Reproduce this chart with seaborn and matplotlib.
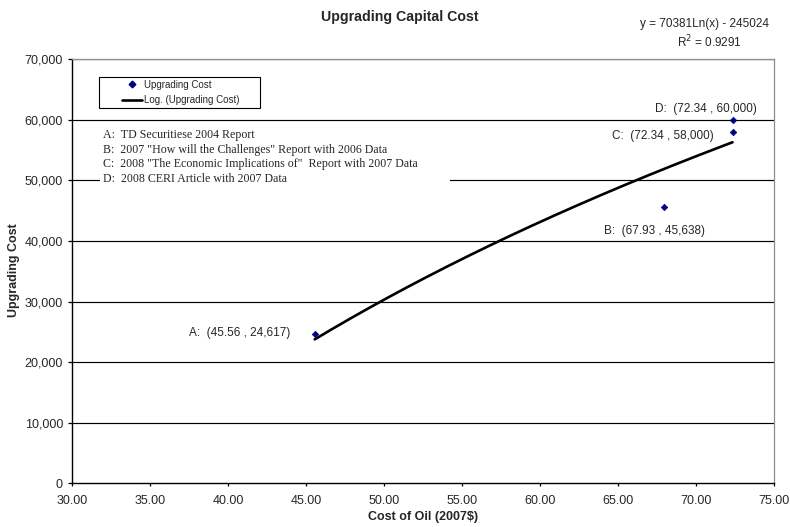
import numpy as np
import pandas as pd
import matplotlib
matplotlib.use("Agg")
import matplotlib.pyplot as plt
import seaborn as sns
from matplotlib.lines import Line2D

# Survey points: cost of oil (2007$) vs. upgrading capital cost
point_ids = ["A", "B", "C", "D"]
oil_cost = [45.56, 67.93, 72.34, 72.34]
upgrading_cost = [24617, 45638, 58000, 60000]
sources = [
    'A:  TD Securitiese 2004 Report',
    'B:  2007 "How will the Challenges" Report with 2006 Data',
    'C:  2008 "The Economic Implications of"  Report with 2007 Data',
    'D:  2008 CERI Article with 2007 Data',
]

# Logarithmic trendline coefficients: y = a*ln(x) + b
trend_a = 70381
trend_b = -245024
trend_r2 = 0.9291

x_ticks = np.arange(30, 75.01, 5)
y_ticks = np.arange(0, 70001, 10000)

W, H = 790, 527


def fx(px):
    return px / W


def fy(py):
    return 1 - py / H


sns.set_theme(style="white")
plt.rcParams["font.family"] = ["Liberation Sans", "DejaVu Sans"]

df = pd.DataFrame({"id": point_ids, "oil": oil_cost, "cost": upgrading_cost})
xs = np.linspace(min(oil_cost), max(oil_cost), 200)
trend = pd.DataFrame({"oil": xs, "cost": trend_a * np.log(xs) + trend_b})

fig = plt.figure(figsize=(W / 100, H / 100), dpi=100)
ax = fig.add_axes([fx(72), fy(483.3), (774 - 72) / W, (483.3 - 59.3) / H])

for yv in y_ticks[1:]:
    ax.axhline(yv, color="black", lw=0.85, zorder=1)

sns.lineplot(data=trend, x="oil", y="cost", ax=ax, color="black", lw=1.9,
             zorder=3)
sns.scatterplot(data=df, x="oil", y="cost", ax=ax, marker="D", color="#000080",
                s=11, edgecolor="#000080", linewidth=0.5, zorder=4)

ax.set_xlim(30, 75)
ax.set_ylim(0, 70000)
ax.set_xticks(x_ticks)
ax.set_xticklabels([f"{v:.2f}" for v in x_ticks], fontsize=9)
ax.set_yticks(y_ticks)
ax.set_yticklabels([f"{int(v):,}" for v in y_ticks], fontsize=9)
ax.tick_params(axis="x", direction="out", length=2.5, width=0.9,
               color="black", pad=6, bottom=True)
ax.tick_params(axis="y", direction="out", length=3, width=0.9,
               color="black", pad=3.5, left=True)
for side in ["left", "bottom"]:
    ax.spines[side].set_color("black")
    ax.spines[side].set_linewidth(1.0)
for side in ["top", "right"]:
    ax.spines[side].set_color("#8c8c8c")
    ax.spines[side].set_linewidth(0.9)

ax.set_xlabel("")
ax.set_ylabel("")
fig.text(fx(423), fy(517), "Cost of Oil (2007$)", ha="center", va="center",
         fontsize=9, fontweight="bold")
fig.text(fx(14), fy(270), "Upgrading Cost", ha="center", va="center",
         rotation=90, fontsize=9, fontweight="bold")

# Point labels, offset in pixels from each marker
label_offsets = {"A": (-75, 1), "B": (-9.5, -24), "C": (-69.5, -4),
                 "D": (-27, 11)}
for pid, xv, yv in zip(point_ids, oil_cost, upgrading_cost):
    dx, dy = label_offsets[pid]
    ax.annotate(f"{pid}:  ({xv:.2f} , {yv:,})", (xv, yv), xytext=(dx, dy),
                textcoords="offset pixels", ha="center", va="center",
                fontsize=8.5, zorder=5)

# Source notes on a white panel that interrupts the gridline
fig.patches.append(plt.Rectangle((fx(100), fy(190)), 350 / W, 64 / H,
                                 transform=fig.transFigure, facecolor="white",
                                 edgecolor="none", zorder=2))
fig.text(fx(103), fy(129), "\n".join(sources),
         family=["Liberation Serif", "DejaVu Serif"], fontsize=8.6,
         va="top", ha="left", linespacing=1.3, zorder=6)

# Legend frame and entries
fig.patches.append(plt.Rectangle((fx(99), fy(108)), 161 / W, 31 / H,
                                 transform=fig.transFigure, facecolor="white",
                                 edgecolor="black", linewidth=0.8, zorder=5))
handles = [
    Line2D([], [], marker="D", color="#000080", linestyle="none",
           markersize=3.4),
    Line2D([], [], color="black", lw=1.9),
]
leg = fig.legend(handles, ["Upgrading Cost", "Log. (Upgrading Cost)"],
                 loc="upper left", bbox_to_anchor=(fx(122), fy(79.5)),
                 borderaxespad=0, borderpad=0, fontsize=7, frameon=False,
                 handlelength=2.1, handletextpad=0.15, labelspacing=0.6)
leg.set_zorder(7)

fig.text(fx(400), fy(17), "Upgrading Capital Cost", ha="center",
         va="center", fontsize=10.2, fontweight="bold")
fig.text(fx(705), fy(24), f"y = {trend_a}Ln(x) - {abs(trend_b)}",
         ha="center", va="center", fontsize=8.5)
fig.text(fx(710), fy(42), f"R$^2$ = {trend_r2}", ha="center",
         va="center", fontsize=8.5)

fig.savefig("out.png", dpi=100)
